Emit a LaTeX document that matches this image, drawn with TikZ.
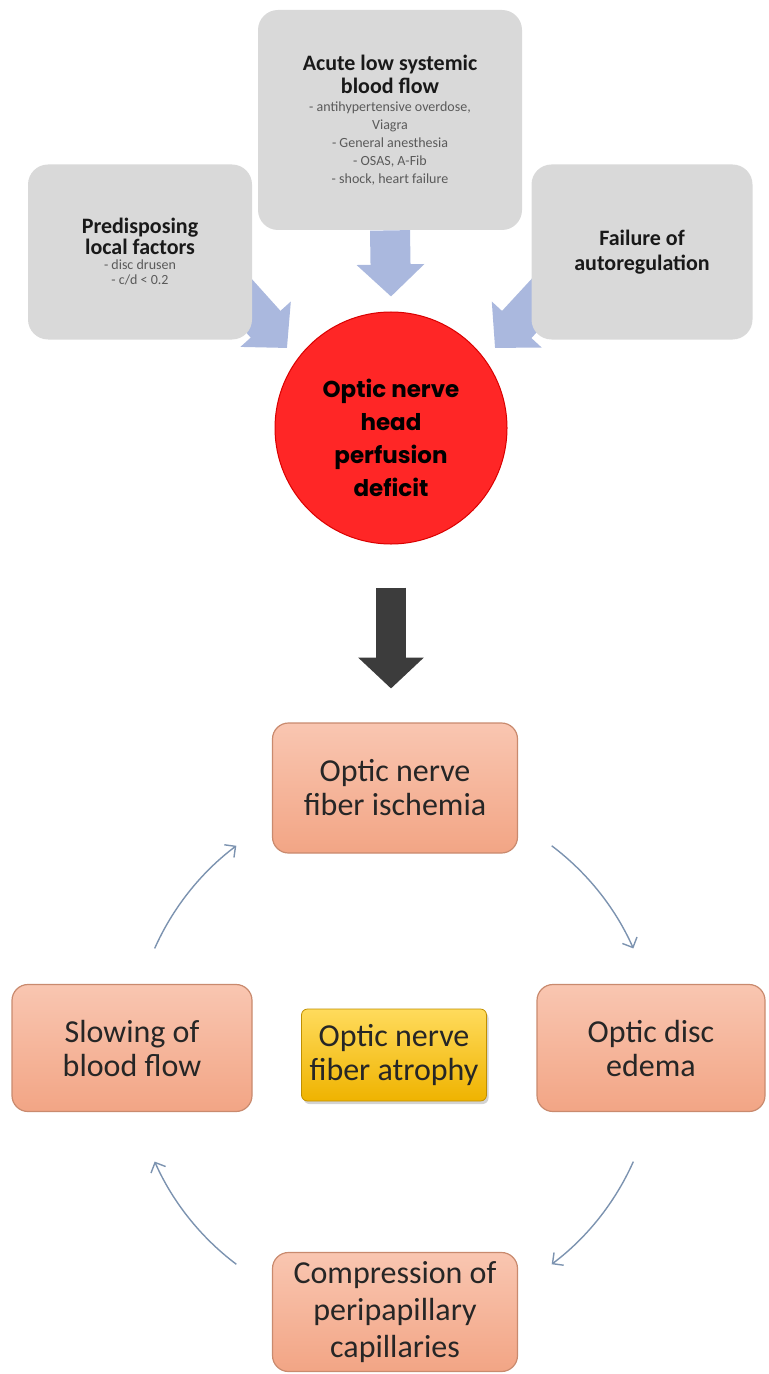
\documentclass[tikz,border=0pt]{standalone}
\usepackage{fontspec}
\setmainfont{Carlito}
\newfontfamily\roundfont{Poppins}
\usetikzlibrary{arrows.meta,backgrounds,shadows}
\definecolor{boxgray}{HTML}{D9D9D9}
\definecolor{subgray}{HTML}{5A5A5A}
\definecolor{bluearrow}{HTML}{AAB8DE}
\definecolor{darkarrow}{HTML}{3C3C3C}
\definecolor{perfred}{HTML}{FF2626}
\definecolor{salmontop}{HTML}{F9C6B1}
\definecolor{salmonbot}{HTML}{F2A585}
\definecolor{salmonline}{HTML}{C98A6E}
\definecolor{atrotop}{HTML}{FFDB5C}
\definecolor{atrobot}{HTML}{EFB300}
\definecolor{cycleblue}{HTML}{7C93B0}
\newcommand\ftitle{\fontsize{11}{11.5}\selectfont\bfseries}
\newcommand\fsub{\fontsize{7}{9}\selectfont\color{subgray}}

\begin{document}
\begin{tikzpicture}[x=0.5pt,y=-0.5pt,
  factor/.style={fill=boxgray,rounded corners=10pt,align=flush center,inner sep=0pt,text=black!90},
  fatarrow/.style={bluearrow,line width=20pt,-{Triangle[length=16pt,width=33pt]}},
  stage/.style={draw=salmonline,line width=0.6pt,top color=salmontop,bottom color=salmonbot,rounded corners=8pt,align=flush center,inner sep=0pt,text=black!85,font=\fontsize{16}{17}\selectfont},
  cyc/.style={cycleblue,line width=0.7pt,-{Straight Barb[length=4pt,width=8pt]}}]
\useasboundingbox (0,0) rectangle (769,1374);

\node[factor,text width=132pt,minimum height=110pt] (acute) at (390,120)
  {{\ftitle Acute low systemic\\ blood flow\par}{\fsub - antihypertensive overdose,\\ Viagra\\ - General anesthesia\\ - OSAS, A-Fib\\ - shock, heart failure\par}};
\node[factor,text width=112pt,minimum height=87.5pt] (predisp) at (140,252)
  {{\ftitle\baselineskip=10.5pt Predisposing\\ local factors\par}{\fsub\baselineskip=7.5pt - disc drusen\\ - c/d {<} 0.2\par}};
\node[factor,text width=110.5pt,minimum height=87.5pt] (autoreg) at (642,252)
  {{\ftitle\baselineskip=12.5pt Failure of\\ autoregulation\par}};

\node[circle,draw=red!85!black,line width=0.5pt,fill=perfred,minimum size=116pt,inner sep=0pt,
  text width=80pt,align=flush center,
  font=\roundfont\bfseries\fontsize{11.5}{16.5}\selectfont] (onh) at (391,428)
  {\rule{0pt}{19pt}Optic nerve\\ head\\ perfusion\\ deficit};

\begin{scope}[on background layer]
\draw[fatarrow] (acute.south) -- ([yshift=7.5pt]onh.north);
\draw[fatarrow] ([shift={(-12pt,28.5pt)}]predisp.south east) -- ([shift={(-52pt,40pt)}]onh.center);
\draw[fatarrow] ([shift={(12pt,28.5pt)}]autoreg.south west) -- ([shift={(52pt,40pt)}]onh.center);
\end{scope}

\node[stage,text width=122.5pt,minimum height=65pt] (isch) at (395,788) {Optic nerve\\ fiber ischemia};
\node[stage,text width=120pt,minimum height=63.5pt] (slow) at (132,1048) {Slowing of\\ blood flow};
\node[stage,text width=114pt,minimum height=63.5pt] (edema) at (651,1048) {Optic disc\\ edema};
\node[stage,text width=122.5pt,minimum height=59.5pt,font=\fontsize{16}{18.5}\selectfont] (compr) at (395,1312)
  {Compression of\\ peripapillary\\ capillaries};
\node[draw=atrobot!80!black,line width=0.4pt,top color=atrotop,bottom color=atrobot,rounded corners=3pt,
  drop shadow={shadow xshift=1pt,shadow yshift=-1.5pt,opacity=0.35},
  text width=92.5pt,minimum height=46pt,inner sep=0pt,align=flush center,text=black!85,
  font=\fontsize{16}{17}\selectfont] (atrophy) at (394,1055) {Optic nerve\\ fiber atrophy};

\draw[darkarrow,line width=15pt,-{Triangle[length=15.5pt,width=32pt]}] ([yshift=-21.5pt]onh.south) -- ([yshift=-72pt]onh.south);

\foreach \a in {156,53,-24,-127}
  \draw[cyc] ([shift={(\a:131pt)}]atrophy.center) arc[start angle=\a,delta angle=-29,radius=131pt];
\end{tikzpicture}
\end{document}
